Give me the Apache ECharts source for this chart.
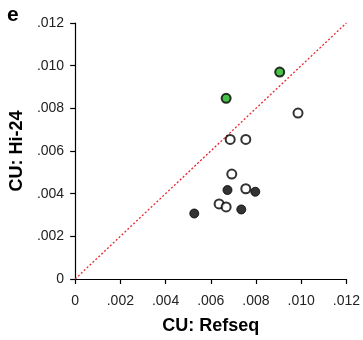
<!DOCTYPE html>
<html>
<head>
<meta charset="utf-8">
<script src="https://cdn.jsdelivr.net/npm/echarts@6/dist/echarts.min.js"></script>
<style>
  html, body {margin: 0; padding: 0; background: #fff;}
  #chart {width: 363px; height: 340px;}
</style>
</head>
<body>
<div id="chart"></div>
<script>
// CU values: x = Refseq, y = Hi-24
const greenX = [0.00668, 0.00905];
const greenY = [0.00847, 0.0097];
const openX = [0.00986, 0.00686, 0.00755, 0.00693, 0.00755, 0.00637, 0.00668];
const openY = [0.00778, 0.00654, 0.00654, 0.00492, 0.00423, 0.00352, 0.00338];
const filledX = [0.00674, 0.00797, 0.00735, 0.00527];
const filledY = [0.00417, 0.00409, 0.00326, 0.00307];
const diagonal = [[0, 0], [0.012, 0.012]];

const pairs = (xs, ys) => xs.map((x, i) => [x, ys[i]]);
const tickFmt = v => v === 0 ? '0' : v.toFixed(3).replace(/^0/, '');

const font = 'Liberation Sans, Arial, sans-serif';
const axisCommon = {
	type: 'value',
	min: 0,
	max: 0.012,
	interval: 0.002,
	splitLine: {show: false},
	axisLine: {show: true, lineStyle: {color: '#000', width: 1.2}},
	axisTick: {show: true, length: 5, lineStyle: {color: '#000', width: 1.2}},
	axisLabel: {color: '#222', fontSize: 14, fontFamily: font, formatter: tickFmt},
	nameLocation: 'middle',
	nameTextStyle: {color: '#000', fontSize: 18, fontWeight: 'bold', fontFamily: font}
};

const chart = echarts.init(document.getElementById('chart'));
chart.setOption({
	animation: false,
	backgroundColor: '#fff',
	title: {
		text: 'e',
		left: 2,
		top: 0,
		textStyle: {color: '#000', fontSize: 21, fontWeight: 'bold', fontFamily: font}
	},
	grid: {left: 75, right: 14, top: 23, bottom: 58},
	xAxis: Object.assign({}, axisCommon, {
		name: 'CU: Refseq',
		nameGap: 38,
		axisLabel: Object.assign({}, axisCommon.axisLabel, {margin: 15})
	}),
	yAxis: Object.assign({}, axisCommon, {
		name: 'CU: Hi-24',
		nameGap: 48,
		axisLabel: Object.assign({}, axisCommon.axisLabel, {margin: 11})
	}),
	series: [
		{
			type: 'line',
			data: diagonal,
			symbol: 'none',
			lineStyle: {color: '#e8262b', width: 1.3, type: [2, 2]},
			z: 1
		},
		{
			type: 'scatter',
			data: pairs(openX, openY),
			symbolSize: 9,
			itemStyle: {color: '#fff', borderColor: '#000', borderWidth: 2},
			z: 3
		},
		{
			type: 'scatter',
			data: pairs(filledX, filledY),
			symbolSize: 9,
			itemStyle: {color: '#000', borderColor: '#000', borderWidth: 1},
			z: 3
		},
		{
			type: 'scatter',
			data: pairs(greenX, greenY),
			symbolSize: 9,
			itemStyle: {color: '#19b21b', borderColor: '#000', borderWidth: 2},
			z: 3
		}
	]
});
</script>
</body>
</html>
